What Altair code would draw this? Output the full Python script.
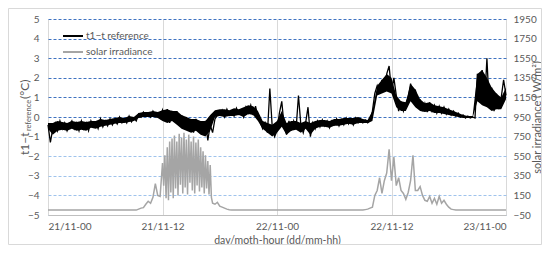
import altair as alt
import pandas as pd

# ---------------- data ----------------
x_ticks = [0, 12, 24, 36, 48]
x_labels = ["21/11-00", "21/11-12", "22/11-00", "22/11-12", "23/11-00"]
left_ticks = [-5, -4, -3, -2, -1, 0, 1, 2, 3, 4, 5]
right_ticks = [-50, 150, 350, 550, 750, 950, 1150, 1350, 1550, 1750, 1950]

series_names = ["t1−t reference", "solar irradiance"]
series_colors = ["#000000", "#A5A5A5"]

# t1 - t_reference (°C), every 15 minutes from 21/11-00 to 23/11-00
dT = [
    -0.4, -1.3, -0.6, -0.3, -0.7, -0.2, -0.6, -0.3, -0.7, -0.4, -0.2, -0.6,
    -0.3, -0.7, -0.2, -0.6, -0.3, -0.7, -0.2, -0.5, -0.3, -0.6, -0.1, -0.5,
    -0.2, -0.45, -0.1, -0.4, -0.15, -0.35, 0.0, -0.3, -0.1, -0.3, 0.05, -0.25,
    -0.05, -0.2, 0.15, 0.0, 0.25, 0.05, 0.2, 0.0, 0.3, 0.05, 0.2, -0.05,
    0.35, -0.2, 0.4, -0.3, 0.25, -0.1, 0.3, -0.4, 0.1, -0.6, 0.0, -0.7,
    -0.2, -0.8, -0.1, -0.6, -0.3, -0.9, -0.2, -1.2, -0.4, -0.8, -0.1, 0.1,
    0.1, 0.35, 0.0, 0.4, 0.1, 0.3, 0.05, 0.45, 0.15, 0.35, 0.0, 0.5,
    0.2, 0.6, 0.1, 0.55, 0.0, -0.3, -0.6, -0.3, -0.8, 1.45, -0.5, -1.0,
    -0.7, 0.2, 0.8, -0.5, -0.9, -0.2, -0.7, -0.2, -0.6, 1.1, -0.4, -0.8,
    -0.3, 0.5, -1.0, -0.3, -0.6, -0.2, -0.5, -0.15, -0.45, -0.2, -0.55, -0.2,
    -0.4, -0.1, -0.45, -0.15, -0.4, -0.05, -0.35, -0.1, -0.4, -0.05, -0.3, -0.1,
    -0.3, -0.15, -0.3, -0.2, 0.3, 1.2, 1.6, 1.2, 1.9, 1.3, 2.2, 2.6,
    1.3, 2.0, 1.1, 0.3, 0.8, 0.3, 0.7, 1.0, 1.7, 0.8, 1.4, 0.5,
    0.9, 0.3, 0.7, 0.25, 0.75, 0.3, 0.6, 0.2, 0.55, 0.2, 0.5, 0.15,
    0.4, 0.1, 0.3, 0.05, 0.2, 0.0, 0.1, -0.05, 0.05, -0.05, 0.0, -0.05,
    2.2, 0.8, 2.4, 0.6, 3.0, 0.5, 1.5, 0.3, 1.2, 0.4, 1.0, 1.9,
    1.1,
]
dT_hours = [i * 0.25 for i in range(len(dT))]

# dense-noise band of t1 - t_reference (lower / upper edge), every 30 minutes
dT_low = [
    -0.6, -0.9, -0.7, -0.65, -0.7, -0.6, -0.7, -0.65, -0.7, -0.55,
    -0.6, -0.5, -0.45, -0.4, -0.35, -0.3, -0.3, -0.25, -0.2, -0.05,
    0.0, 0.0, 0.0, -0.05, -0.2, -0.3, -0.2, -0.4, -0.6, -0.7,
    -0.8, -0.7, -0.9, -1.0, -0.7, 0.0, 0.05, 0.0, 0.05, 0.05,
    0.1, 0.0, 0.15, 0.1, -0.2, -0.6, -0.8, -1.0, -0.8, -0.5,
    -0.9, -0.7, -0.65, -0.8, -0.6, -0.9, -0.6, -0.5, -0.5, -0.55,
    -0.45, -0.45, -0.4, -0.35, -0.4, -0.3, -0.3, -0.3, -0.2, 1.1,
    1.2, 1.3, 1.2, 0.5, 0.3, 0.3, 0.8, 0.5, 0.3, 0.25,
    0.3, 0.2, 0.2, 0.15, 0.1, 0.05, 0.0, -0.05, -0.05, -0.05,
    0.8, 0.6, 0.5, 0.3, 0.4, 0.4, 0.9,
]
dT_high = [
    -0.3, -0.3, -0.2, -0.25, -0.3, -0.2, -0.25, -0.2, -0.25, -0.2,
    -0.2, -0.1, -0.15, -0.1, -0.05, 0.0, -0.05, 0.05, 0.0, 0.2,
    0.25, 0.25, 0.3, 0.25, 0.35, 0.4, 0.3, 0.3, 0.1, 0.0,
    -0.1, -0.1, -0.2, -0.2, 0.1, 0.35, 0.4, 0.4, 0.35, 0.45,
    0.4, 0.5, 0.6, 0.55, 0.3, -0.2, -0.3, -0.4, -0.2, 0.3,
    -0.3, -0.2, -0.2, -0.3, -0.2, -0.3, -0.2, -0.15, -0.15, -0.2,
    -0.1, -0.1, -0.05, -0.05, -0.05, 0.0, -0.1, -0.15, 0.3, 1.6,
    1.9, 2.2, 2.0, 1.1, 0.8, 0.75, 1.7, 1.4, 0.9, 0.7,
    0.75, 0.6, 0.55, 0.5, 0.4, 0.3, 0.2, 0.1, 0.05, 0.05,
    2.2, 2.4, 2.0, 1.5, 1.2, 1.0, 1.5,
]
band_hours = [i * 0.5 for i in range(len(dT_low))]

# solar irradiance (W/m²)
irr_hours = [
    0, 9.25, 9.5, 9.75, 10, 10.25, 10.5, 10.75, 11, 11.25, 11.5, 11.75,
    12.0, 12.125, 12.25, 12.375, 12.5, 12.625, 12.75, 12.875,
    13.0, 13.125, 13.25, 13.375, 13.5, 13.625, 13.75, 13.875,
    14.0, 14.125, 14.25, 14.375, 14.5, 14.625, 14.75, 14.875,
    15.0, 15.125, 15.25, 15.375, 15.5, 15.625, 15.75, 15.875,
    16.0, 16.125, 16.25, 16.375, 16.5, 16.625, 16.75, 16.875,
    17.0, 17.125,
    17.25, 17.5, 17.75, 18, 18.25, 18.5, 18.75, 19, 19.25, 33,
    33.25, 33.5, 33.75, 34, 34.25, 34.5, 34.75, 35, 35.25, 35.5, 35.75,
    36, 36.25, 36.5, 36.75, 37, 37.25, 37.5, 37.75, 38, 38.25, 38.5, 38.75,
    39, 39.25, 39.5, 39.75, 40, 40.25, 40.5, 40.75, 41, 41.25, 41.5, 41.75,
    42, 42.25, 42.5, 42.75, 48,
]
irr_vals = [
    0, 0, 10, 20, 25, 60, 90, 70, 130, 270, 150, 140,
    480, 250, 560, 120, 640, 100, 700, 180,
    730, 120, 760, 220, 700, 150, 780, 260,
    740, 170, 790, 230, 720, 160, 770, 280,
    700, 200, 750, 170, 690, 250, 720, 190,
    640, 230, 600, 170, 560, 220, 500, 160,
    460, 130,
    70, 60, 80, 40, 30, 20, 10, 3, 0, 0,
    5, 10, 20, 30, 150, 200, 330, 170, 300, 380, 620,
    300, 540, 250, 330, 200, 170, 110, 180, 300, 560, 200, 200,
    240, 150, 100, 90, 140, 70, 120, 60, 140, 70, 100, 60,
    30, 10, 5, 0, 0,
]

left_title_parts = ["t1−t", "reference", "(°C)"]

# ---------------- chart ----------------
FONT = "Lato"
TXT = "#595959"

df_t = pd.DataFrame({"h": dT_hours, "v": dT, "s": series_names[0]})
df_b = pd.DataFrame({"h": band_hours, "lo": dT_low, "hi": dT_high})
df_s = pd.DataFrame({"h": irr_hours, "v": irr_vals, "s": series_names[1]})

label_expr = "[" + ",".join("'" + s + "'" for s in x_labels) + "][round(datum.value/12)]"

x_enc = alt.X(
    "h:Q",
    scale=alt.Scale(domain=[0, 48], nice=False, zero=False),
    axis=alt.Axis(
        values=x_ticks, labelExpr=label_expr, title="day/moth-hour (dd/mm-hh)",
        grid=True, gridColor="#D9D9D9", gridWidth=1,
        domain=True, domainColor="#BFBFBF", ticks=False,
        labelPadding=6, titlePadding=4, titleFontSize=10.5,
    ),
)

left_scale = alt.Scale(domain=[-5, 5], nice=False, zero=False)
left_axis = alt.Axis(
    values=left_ticks, title="", grid=True,
    gridColor={"condition": {"test": "datum.value >= 0", "value": "#3F72C0"},
               "value": "#9FC3EC"},
    gridDash=[3, 2], gridWidth=1, domain=False, ticks=False, labelPadding=9,
)

color_enc = alt.Color(
    "s:N",
    scale=alt.Scale(domain=series_names, range=series_colors),
    legend=alt.Legend(
        orient="none", legendX=14, legendY=6, title="",
        symbolType="stroke", symbolSize=400, symbolStrokeWidth=2,
        labelFont=FONT, labelFontSize=10, labelColor=TXT, labelOffset=2,
        rowPadding=0,
    ),
)

band = alt.Chart(df_b).mark_area(color="#000000", opacity=1).encode(
    x=x_enc,
    y=alt.Y("lo:Q", scale=left_scale, axis=left_axis),
    y2="hi:Q",
)

temp = alt.Chart(df_t).mark_line(strokeWidth=1.3).encode(
    x=x_enc,
    y=alt.Y("v:Q", scale=left_scale, axis=left_axis),
    color=color_enc,
)

left_layer = alt.layer(band, temp)

irr = alt.Chart(df_s).mark_line(strokeWidth=1.5).encode(
    x=x_enc,
    y=alt.Y(
        "v:Q",
        scale=alt.Scale(domain=[-50, 1950], nice=False, zero=False),
        axis=alt.Axis(
            orient="right", values=right_ticks, format="d",
            title="solar irradiance ( W/m²)",
            titleAngle=270, titlePadding=6, grid=False, domain=False, ticks=False,
            labelPadding=7,
        ),
    ),
    color=color_enc,
)

title_layers = []
pos = [(-23, 136, 12), (-19, 112, 7.5), (-23, 80, 12)]
for part, (px, py, fs) in zip(left_title_parts, pos):
    title_layers.append(
        alt.Chart(pd.DataFrame({"t": [part]})).mark_text(
            angle=270, align="left", baseline="middle", font=FONT, fontSize=fs, color=TXT
        ).encode(text="t:N", x=alt.value(px), y=alt.value(py))
    )
texts = alt.layer(*title_layers)

border = alt.Chart(pd.DataFrame({"d": [0]})).mark_rect(
    fillOpacity=0, stroke="#D9D9D9", strokeWidth=1
).encode(x=alt.value(-39.5), x2=alt.value(493.5), y=alt.value(-10.5), y2=alt.value(225.5))

chart = (
    alt.layer(left_layer, irr, border, texts)
    .resolve_scale(y="independent")
    .properties(
        width=458, height=196,
        padding={"left": 40, "top": 11, "right": 36, "bottom": 30},
        autosize=alt.AutoSizeParams(type="none"),
        background="white",
    )
    .configure_view(stroke=None)
    .configure_axis(
        labelFont=FONT, labelFontSize=10, labelColor=TXT,
        titleFont=FONT, titleFontSize=11, titleColor=TXT, titleFontWeight="normal",
    )
)

chart.save("out.html", embed_options={"renderer": "svg", "actions": False})
